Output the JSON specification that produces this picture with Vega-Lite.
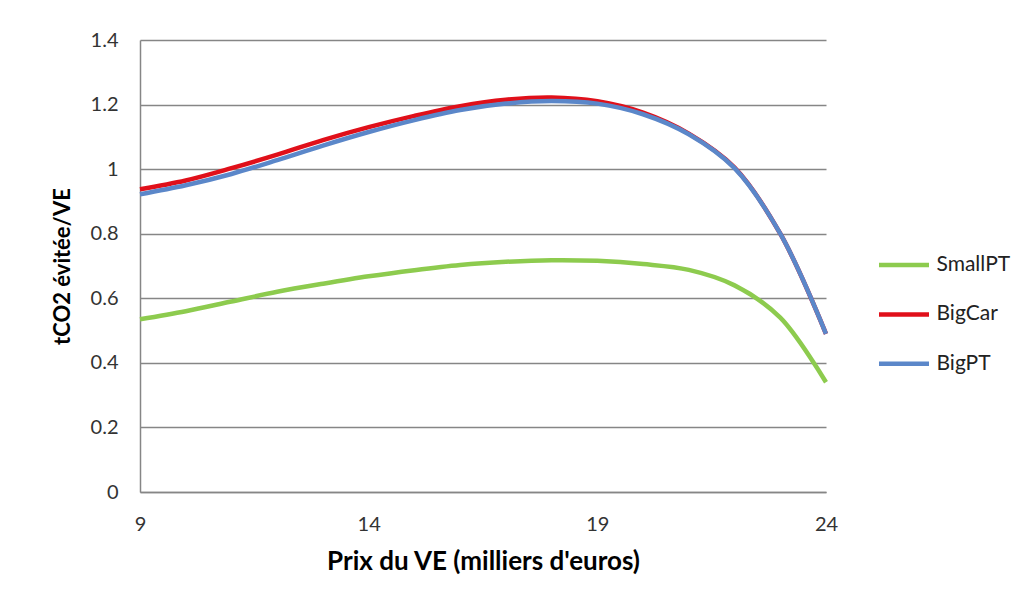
{
  "$schema": "https://vega.github.io/schema/vega-lite/v6.json",
  "width": 686,
  "height": 452,
  "autosize": {"type": "none"},
  "padding": {"left": 140, "top": 40, "right": 204, "bottom": 116},
  "background": "white",
  "config": {
    "view": {"stroke": null},
    "font": "Lato"
  },
  "data": {
    "values": [
      {"prix": 9, "serie": "SmallPT", "v": 0.535},
      {"prix": 10, "serie": "SmallPT", "v": 0.56},
      {"prix": 11, "serie": "SmallPT", "v": 0.59},
      {"prix": 12, "serie": "SmallPT", "v": 0.62},
      {"prix": 13, "serie": "SmallPT", "v": 0.645},
      {"prix": 14, "serie": "SmallPT", "v": 0.668},
      {"prix": 15, "serie": "SmallPT", "v": 0.687},
      {"prix": 16, "serie": "SmallPT", "v": 0.703},
      {"prix": 17, "serie": "SmallPT", "v": 0.713},
      {"prix": 18, "serie": "SmallPT", "v": 0.718},
      {"prix": 19, "serie": "SmallPT", "v": 0.716},
      {"prix": 20, "serie": "SmallPT", "v": 0.706},
      {"prix": 21, "serie": "SmallPT", "v": 0.688},
      {"prix": 22, "serie": "SmallPT", "v": 0.64},
      {"prix": 23, "serie": "SmallPT", "v": 0.54},
      {"prix": 24, "serie": "SmallPT", "v": 0.34},
      {"prix": 9, "serie": "BigCar", "v": 0.938},
      {"prix": 10, "serie": "BigCar", "v": 0.965},
      {"prix": 11, "serie": "BigCar", "v": 1.003},
      {"prix": 12, "serie": "BigCar", "v": 1.045},
      {"prix": 13, "serie": "BigCar", "v": 1.09},
      {"prix": 14, "serie": "BigCar", "v": 1.13},
      {"prix": 15, "serie": "BigCar", "v": 1.165},
      {"prix": 16, "serie": "BigCar", "v": 1.195},
      {"prix": 17, "serie": "BigCar", "v": 1.215},
      {"prix": 18, "serie": "BigCar", "v": 1.222},
      {"prix": 19, "serie": "BigCar", "v": 1.21},
      {"prix": 20, "serie": "BigCar", "v": 1.175},
      {"prix": 21, "serie": "BigCar", "v": 1.11},
      {"prix": 22, "serie": "BigCar", "v": 1.005},
      {"prix": 23, "serie": "BigCar", "v": 0.8},
      {"prix": 24, "serie": "BigCar", "v": 0.49},
      {"prix": 9, "serie": "BigPT", "v": 0.922},
      {"prix": 10, "serie": "BigPT", "v": 0.95},
      {"prix": 11, "serie": "BigPT", "v": 0.985},
      {"prix": 12, "serie": "BigPT", "v": 1.028},
      {"prix": 13, "serie": "BigPT", "v": 1.073},
      {"prix": 14, "serie": "BigPT", "v": 1.115},
      {"prix": 15, "serie": "BigPT", "v": 1.152},
      {"prix": 16, "serie": "BigPT", "v": 1.183},
      {"prix": 17, "serie": "BigPT", "v": 1.203},
      {"prix": 18, "serie": "BigPT", "v": 1.211},
      {"prix": 19, "serie": "BigPT", "v": 1.203},
      {"prix": 20, "serie": "BigPT", "v": 1.17},
      {"prix": 21, "serie": "BigPT", "v": 1.108},
      {"prix": 22, "serie": "BigPT", "v": 1.003},
      {"prix": 23, "serie": "BigPT", "v": 0.8},
      {"prix": 24, "serie": "BigPT", "v": 0.49}
    ]
  },
  "mark": {"type": "line", "interpolate": "catmull-rom", "strokeWidth": 4.5, "strokeCap": "butt"},
  "encoding": {
    "x": {
      "field": "prix",
      "type": "quantitative",
      "scale": {"domain": [9, 24], "nice": false, "zero": false},
      "axis": {
        "values": [9, 14, 19, 24],
        "title": "Prix du VE (milliers d'euros)",
        "titleFont": "Lato",
        "titleFontSize": 26,
        "titleFontWeight": "bold",
        "titleColor": "#000000",
        "titlePadding": 14,
        "labelFont": "Lato",
        "labelFontSize": 20,
        "labelColor": "#333333",
        "labelPadding": 22,
        "labelFlush": false,
        "labelOverlap": false,
        "ticks": false,
        "grid": false,
        "domainColor": "#868686",
        "domainWidth": 1.5
      }
    },
    "y": {
      "field": "v",
      "type": "quantitative",
      "scale": {"domain": [0, 1.4], "nice": false},
      "axis": {
        "values": [0, 0.2, 0.4, 0.6, 0.8, 1, 1.2, 1.4],
        "format": "~g",
        "title": "tCO2 évitée/VE",
        "titleFont": "Lato",
        "titleFontSize": 22,
        "titleFontWeight": "bold",
        "titleColor": "#000000",
        "titlePadding": 16,
        "labelFont": "Lato",
        "labelFontSize": 20,
        "labelColor": "#333333",
        "labelPadding": 22,
        "labelFlush": false,
        "ticks": false,
        "grid": true,
        "gridColor": "#868686",
        "gridWidth": 1.5,
        "domainColor": "#868686",
        "domainWidth": 1.5
      }
    },
    "color": {
      "field": "serie",
      "type": "nominal",
      "scale": {"domain": ["SmallPT", "BigCar", "BigPT"], "range": ["#8DCB4E", "#E0101A", "#5B87C9"]},
      "legend": {
        "title": null,
        "orient": "none",
        "legendX": 749,
        "legendY": 210,
        "symbolType": "M-2,0H2",
        "symbolSize": 625,
        "symbolStrokeWidth": 4.5,
        "labelFont": "Lato",
        "labelFontSize": 21,
        "labelColor": "#222222",
        "labelOffset": 17.5,
        "rowPadding": 24.4,
        "padding": 0
      }
    }
  }
}
